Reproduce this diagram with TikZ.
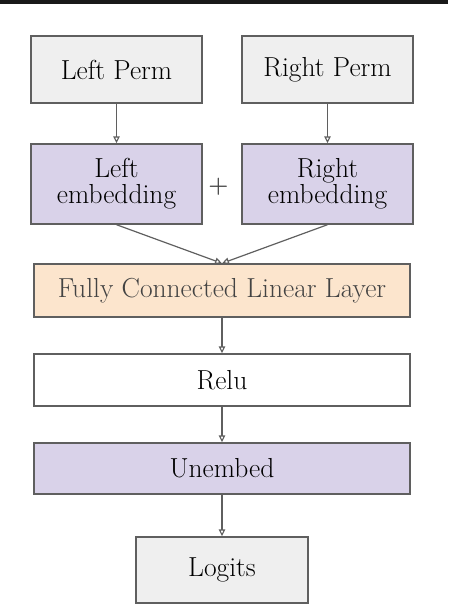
\documentclass[tikz,border=0pt]{standalone}
\usetikzlibrary{arrows.meta}
\definecolor{boxgray}{HTML}{EFEFEF}
\definecolor{boxpurple}{HTML}{D9D2E9}
\definecolor{boxorange}{HTML}{FCE5CD}
\definecolor{edgegray}{HTML}{5F5F5F}
\definecolor{textgray}{HTML}{434343}
\begin{document}
\begin{tikzpicture}[x=1pt,y=-1pt,
  blockbox/.style={draw=edgegray, line width=1.4pt, inner sep=0pt, align=center,
    font=\fontsize{27.5}{26}\selectfont},
  graybox/.style={blockbox, fill=boxgray},
  purplebox/.style={blockbox, fill=boxpurple},
  orangebox/.style={blockbox, fill=boxorange, text=textgray},
  whitebox/.style={blockbox, fill=white},
  flow/.style={draw=edgegray, line width=1.2pt, -{Triangle[open, length=7pt, width=6.5pt]}}
]
\useasboundingbox (0,0) rectangle (448,606);
\fill[black!90] (0,0) rectangle (448,3.5);

\node[graybox, minimum width=171pt, minimum height=67pt] (lp) at (116.5,69.5) {Left Perm};
\node[graybox, minimum width=171pt, minimum height=67pt] (rp) at (327.5,69.5) {Right Perm};
\node[purplebox, minimum width=171pt, minimum height=80pt] (le) at (116.5,184) {Left\\embedding};
\node[purplebox, minimum width=171pt, minimum height=80pt] (re) at (327.5,184) {Right\\embedding};
\node[font=\fontsize{23}{25}\bfseries, text=textgray, inner sep=0pt] (plus) at (218.5,187) {+};
\node[orangebox, minimum width=376pt, minimum height=53pt] (fc) at (222,290.5) {Fully Connected Linear Layer};
\node[whitebox, minimum width=376pt, minimum height=52pt] (relu) at (222,380) {Relu};
\node[purplebox, minimum width=376pt, minimum height=51pt] (unembed) at (222,468.5) {Unembed};
\node[graybox, minimum width=172pt, minimum height=66pt] (logits) at (222,570) {Logits};

\draw[flow] (lp) -- (le);
\draw[flow] (rp) -- (re);
\draw[flow] (le.south) -- (fc.north);
\draw[flow] (re.south) -- (fc.north);
\draw[flow] (fc) -- (relu);
\draw[flow] (relu) -- (unembed);
\draw[flow] (unembed) -- (logits);
\end{tikzpicture}
\end{document}
